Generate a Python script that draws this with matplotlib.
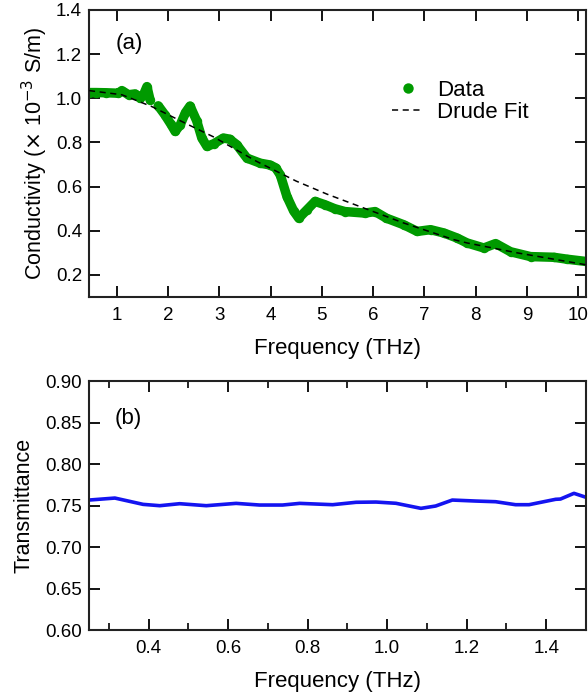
import matplotlib
matplotlib.use("Agg")
import matplotlib.pyplot as plt
from matplotlib.lines import Line2D
from matplotlib.ticker import MultipleLocator, FormatStrFormatter

plt.rcParams['font.family'] = ['Liberation Sans', 'DejaVu Sans']
plt.rcParams['axes.linewidth'] = 1.5
plt.rcParams['xtick.direction'] = 'in'
plt.rcParams['ytick.direction'] = 'in'

nan = float('nan')

# (a) optical conductivity, units of 1e-3 S/m (nan marks the gap in the data)
freq_a = [0.46, 0.6, 0.8, 1.03, 1.1, 1.23, 1.36, 1.46, 1.53, 1.59, 1.65, 1.72,
          1.81, 1.94, 2.05, 2.14, 2.24, 2.34, 2.43, 2.56, 2.66, 2.76, 2.9,
          3.08, 3.2, 3.34, 3.54, 3.8, 3.99, 4.1, 4.19, 4.32, 4.45, 4.55,
          4.71, 4.87, 5.06, 5.25, 5.45, 5.84, 6.04, 6.26, 6.6, 6.86, 7.12,
          7.38, 7.64, 7.83, 8.16, 8.39, 8.68, 9.07, 9.52, 9.79, 10.15]
sigma_a = [1.026, 1.026, 1.025, 1.023, 1.035, 1.016, 1.02, 1.0, 1.02, 1.053, 0.993, nan,
           0.966, 0.925, 0.885, 0.85, 0.88, 0.935, 0.965, 0.898, 0.82, 0.782, 0.795,
           0.82, 0.815, 0.79, 0.729, 0.706, 0.698, 0.685, 0.653, 0.555, 0.49, 0.457,
           0.495, 0.533, 0.518, 0.5, 0.487, 0.48, 0.487, 0.457, 0.427, 0.397, 0.405,
           0.39, 0.367, 0.345, 0.322, 0.342, 0.305, 0.283, 0.28, 0.271, 0.261]

freq_fit = [0.46, 1.1, 1.68, 2.33, 2.89, 3.73, 4.5, 5.1, 5.91, 6.6, 7.57,
            7.83, 8.81, 10.15]
sigma_fit = [1.035, 1.016, 0.963, 0.888, 0.825, 0.714, 0.625, 0.566, 0.495,
             0.435, 0.36, 0.345, 0.3, 0.246]

# (b) transmittance
freq_b = [0.25, 0.315, 0.386, 0.428, 0.478, 0.545, 0.62, 0.679, 0.737, 0.78,
          0.863, 0.922, 0.972, 1.022, 1.085, 1.122, 1.164, 1.223, 1.273,
          1.323, 1.357, 1.424, 1.436, 1.47, 1.496]
trans_b = [0.7566, 0.759, 0.7514, 0.7498, 0.7522, 0.7498, 0.7526, 0.7506,
           0.7506, 0.7526, 0.751, 0.7539, 0.7542, 0.7527, 0.7466, 0.7494,
           0.7566, 0.7554, 0.7546, 0.751, 0.751, 0.7575, 0.7578, 0.7647, 0.7606]

green = '#009a00'
blue = '#1414f0'
fit_dash = (0, (4, 3))

fig = plt.figure(figsize=(5.88, 6.98), dpi=100)
ax1 = fig.add_axes([0.1514, 0.5745, 0.845, 0.4112])
ax2 = fig.add_axes([0.1514, 0.0974, 0.845, 0.3567])

ax1.plot(freq_a, sigma_a, color=green, lw=6.8, marker='o', ms=6.8, mew=0,
         solid_capstyle='round', solid_joinstyle='round', zorder=2)
ax1.plot(freq_fit, sigma_fit, color='black', lw=1.1, ls=fit_dash, zorder=3)
ax1.set_xlim(0.46, 10.15)
ax1.set_ylim(0.1, 1.4)
ax1.xaxis.set_major_locator(MultipleLocator(1))
ax1.yaxis.set_major_locator(MultipleLocator(0.2))
ax1.yaxis.set_major_formatter(FormatStrFormatter('%.1f'))
ax1.set_xlabel('Frequency (THz)', fontsize=16, labelpad=9.5)
ax1.set_ylabel(r'Conductivity ($\times$ 10$^{-3}$ S/m)', fontsize=15.5, labelpad=4)
ax1.text(0.054, 0.884, '(a)', transform=ax1.transAxes, fontsize=16,
         ha='left', va='center')

handles = [Line2D([], [], color=green, marker='o', ms=7.5, mew=0, ls='none'),
           Line2D([], [], color='black', lw=1.1, ls=fit_dash)]
ax1.legend(handles, ['Data', 'Drude Fit'], loc='upper left',
           bbox_to_anchor=(0.588, 0.796), frameon=False, fontsize=16,
           handlelength=1.42, handletextpad=0.6, labelspacing=0.05,
           borderpad=0)

ax2.plot(freq_b, trans_b, color=blue, lw=2.6)
ax2.set_xlim(0.25, 1.5)
ax2.set_ylim(0.6, 0.9)
ax2.xaxis.set_major_locator(MultipleLocator(0.2))
ax2.xaxis.set_minor_locator(MultipleLocator(0.1))
ax2.yaxis.set_major_locator(MultipleLocator(0.05))
ax2.xaxis.set_major_formatter(FormatStrFormatter('%.1f'))
ax2.yaxis.set_major_formatter(FormatStrFormatter('%.2f'))
ax2.set_xlabel('Frequency (THz)', fontsize=16, labelpad=9.5)
ax2.set_ylabel('Transmittance', fontsize=15.5, labelpad=8)
ax2.text(0.052, 0.850, '(b)', transform=ax2.transAxes, fontsize=16,
         ha='left', va='center')

for ax in (ax1, ax2):
    ax.tick_params(which='major', length=8, width=1.3, labelsize=13.5,
                   top=True, right=True)
    ax.tick_params(axis='x', which='major', pad=7.5)
    ax.tick_params(axis='y', which='major', pad=5)
    ax.tick_params(which='minor', length=4.8, width=1.2, top=True, right=True)
    for s in ax.spines.values():
        s.set_color('#222222')

fig.savefig('out.png', dpi=100)
